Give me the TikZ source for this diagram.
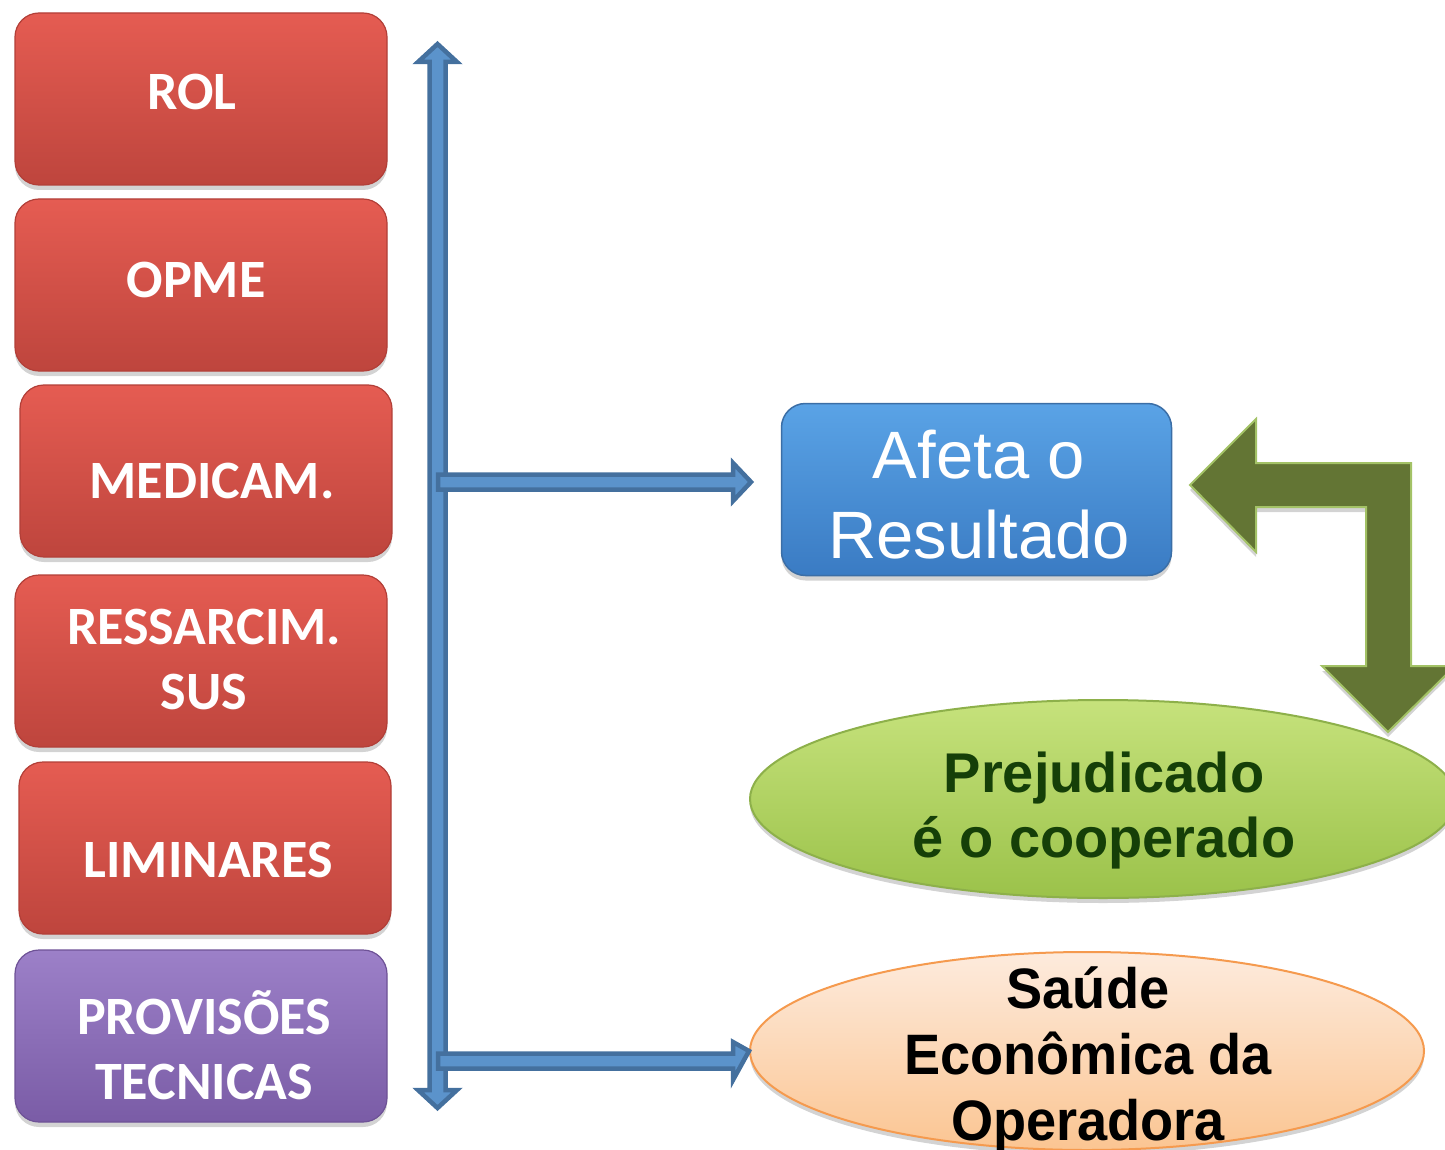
\documentclass[tikz,border=0pt]{standalone}
\usepackage{fontspec}
\setmainfont{Liberation Sans}
\newfontfamily\calib{Carlito}
\newfontfamily\arialn[FakeStretch=0.95]{Liberation Sans}
\usetikzlibrary{shadows,shapes.geometric}
\definecolor{redtop}{HTML}{E55C52}
\definecolor{redbot}{HTML}{BE453D}
\definecolor{redline}{HTML}{B23F38}
\definecolor{purtop}{HTML}{9C80C8}
\definecolor{purbot}{HTML}{7A5CA6}
\definecolor{purline}{HTML}{6E5296}
\definecolor{arrfill}{HTML}{5B93CB}
\definecolor{arrline}{HTML}{44709E}
\definecolor{bluetop}{HTML}{5AA3E6}
\definecolor{bluebot}{HTML}{3A7BC3}
\definecolor{blueline}{HTML}{3B6EA6}
\definecolor{olive}{HTML}{637534}
\definecolor{oliveline}{HTML}{A3C266}
\definecolor{gtop}{HTML}{C6E27C}
\definecolor{gbot}{HTML}{9BC24A}
\definecolor{gline}{HTML}{8DB04A}
\definecolor{gtext}{HTML}{153F08}
\definecolor{ptop}{HTML}{FDEBDD}
\definecolor{pbot}{HTML}{FBC592}
\definecolor{pline}{HTML}{F59A4E}
\tikzset{
  shad/.style={drop shadow={shadow xshift=0pt,shadow yshift=-5pt,opacity=0.35}},
  redbox/.style={shad,rectangle,rounded corners=24pt,minimum width=372pt,minimum height=172pt,
     top color=redtop,bottom color=redbot,draw=redline,line width=1.2pt},
  purbox/.style={redbox,top color=purtop,bottom color=purbot,draw=purline},
  btxt/.style={anchor=base,text=white,font=\calib\bfseries\fontsize{54}{60}\selectfont,inner sep=0pt},
  blockarr/.style={fill=arrfill,draw=arrline,line width=4.5pt,line join=miter},
}
\begin{document}
\begin{tikzpicture}[x=1pt,y=-1pt]
\useasboundingbox (0,0) rectangle (1445,1150);
\clip (0,0) rectangle (1445,1150);
% left boxes
\node[redbox] (rol) at (201,99) {};
\node[redbox] (opme) at (201,285) {};
\node[redbox] (medi) at (206,471) {};
\node[redbox] (ress) at (201,661) {};
\node[redbox] (limi) at (205,848) {};
\node[purbox] (prov) at (201,1036) {};
\node[btxt] (t1) at (192,110) {ROL};
\node[btxt] (t2) at (196,298) {OPME};
\node[btxt] (t3) at (212,498) {MEDICAM.};
\node[btxt] (t4a) at (204,644) {RESSARCIM.};
\node[btxt] (t4b) at (204,709) {SUS};
\node[btxt] (t5) at (208,877) {LIMINARES};
\node[btxt] (t6a) at (204,1034) {PROVISÕES};
\node[btxt] (t6b) at (204,1099) {TECNICAS};
% right side nodes
\node[shad,rectangle,rounded corners=24pt,minimum width=390pt,minimum height=172pt,
  top color=bluetop,bottom color=bluebot,draw=blueline,line width=1.5pt] (afeta) at (976.5,489.5) {};
\node[anchor=base,text=white,font=\fontsize{67}{75}\selectfont,inner sep=0pt] (af1) at (979,478) {Afeta o};
\node[anchor=base,text=white,font=\fontsize{67}{75}\selectfont,inner sep=0pt] (af2) at (979,558) {Resultado};
\node[shad,ellipse,minimum width=706pt,minimum height=198pt,top color=gtop,bottom color=gbot,
  draw=gline,line width=2pt] (prej) at (1103,799) {};
\node[anchor=base,text=gtext,font=\bfseries\fontsize{56}{62}\selectfont,inner sep=0pt] (pj1) at (1104,792) {Prejudicado};
\node[anchor=base,text=gtext,font=\bfseries\fontsize{56}{62}\selectfont,inner sep=0pt] (pj2) at (1104,857) {é o cooperado};
\node[shad,ellipse,minimum width=674pt,minimum height=198pt,top color=ptop,bottom color=pbot,
  draw=pline,line width=2pt] (saude) at (1087,1051) {};
\node[anchor=base,font=\arialn\bfseries\fontsize{57}{62}\selectfont,inner sep=0pt] (s1) at (1088,1008) {Saúde};
\node[anchor=base,font=\arialn\bfseries\fontsize{57}{62}\selectfont,inner sep=0pt] (s2) at (1088,1074) {Econômica da};
\node[anchor=base,font=\arialn\bfseries\fontsize{57}{62}\selectfont,inner sep=0pt] (s3) at (1088,1140) {Operadora};
% vertical double arrow
\coordinate (vtop) at (437.5,44);
\coordinate (vbot) at (437.5,1108);
\draw[blockarr] (vtop) -- (457,62) -- (445.5,62) -- (445.5,1090) -- (457,1090) -- (vbot)
  -- (418,1090) -- (429.5,1090) -- (429.5,62) -- (418,62) -- cycle;
% horizontal arrows
\coordinate (h1s) at (438,482);
\coordinate (h1e) at (afeta.west);
\draw[blockarr] (438,474.5) -- (733,474.5) -- (733,463) -- (751,482) -- (733,501) -- (733,489.5) -- (438,489.5) -- cycle;
\coordinate (h2s) at (438,1061);
\draw[blockarr] (438,1053.5) -- (733,1053.5) -- (733,1042) -- (saude.west) -- (733,1080) -- (733,1068.5) -- (438,1068.5) -- cycle;
% green bent arrow
\draw[shad,fill=olive,draw=oliveline,line width=2pt,line join=miter]
  (1190,485) -- (1256,419) -- (1256,463) -- (1411,463) -- (1411,666) -- (1455,666)
  -- (1388,732) -- (1322,666) -- (1366,666) -- (1366,507) -- (1256,507) -- (1256,552) -- cycle;
\end{tikzpicture}
\end{document}
